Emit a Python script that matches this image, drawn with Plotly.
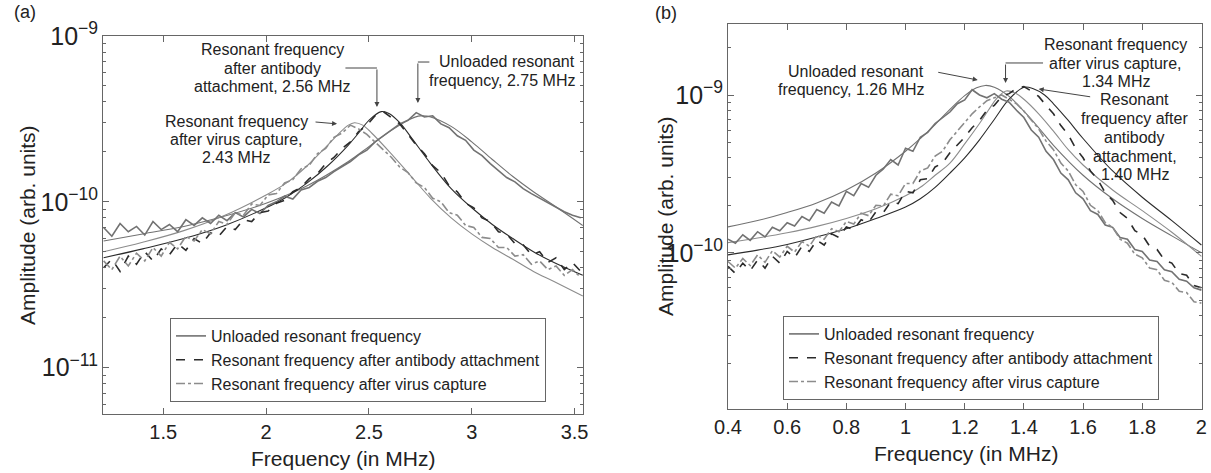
import plotly.graph_objects as go

# ---------------- Panel (a) data (amplitudes in units of 1e-10) ----------------
freq_a = [round(1.21 + 0.04 * i, 2) for i in range(59)]
amp_a_unloaded = [0.70, 0.62, 0.74, 0.66, 0.71, 0.63, 0.76, 0.68, 0.73, 0.66,
                  0.78, 0.72, 0.80, 0.74, 0.83, 0.77, 0.86, 0.81, 0.90, 0.85,
                  0.95, 1.00, 1.08, 1.04, 1.18, 1.22, 1.33, 1.40, 1.52, 1.63,
                  1.75, 1.92, 2.05, 2.30, 2.50, 2.70, 2.95, 3.10, 3.45, 3.25,
                  3.30, 2.95, 2.80, 2.50, 2.35, 2.05, 1.90, 1.70, 1.55, 1.40,
                  1.32, 1.20, 1.12, 1.05, 0.98, 0.92, 0.87, 0.83, 0.80]
amp_a_antibody = [0.40, 0.45, 0.38, 0.47, 0.42, 0.50, 0.44, 0.52, 0.48, 0.56,
                  0.51, 0.60, 0.56, 0.65, 0.62, 0.71, 0.68, 0.78, 0.76, 0.86,
                  0.88, 0.98, 1.02, 1.15, 1.22, 1.38, 1.48, 1.70, 1.85, 2.10,
                  2.30, 2.65, 2.90, 3.30, 3.50, 3.20, 2.95, 2.55, 2.20, 1.95,
                  1.65, 1.50, 1.25, 1.15, 0.98, 0.92, 0.80, 0.76, 0.66, 0.64,
                  0.56, 0.55, 0.48, 0.50, 0.43, 0.46, 0.39, 0.43, 0.38]
amp_a_virus = [0.44, 0.39, 0.47, 0.41, 0.49, 0.44, 0.53, 0.47, 0.57, 0.52,
               0.62, 0.58, 0.68, 0.64, 0.76, 0.73, 0.86, 0.83, 0.97, 0.95,
               1.10, 1.12, 1.30, 1.36, 1.58, 1.66, 1.95, 2.10, 2.45, 2.60,
               2.90, 2.75, 2.55, 2.30, 2.05, 1.85, 1.62, 1.50, 1.30, 1.22,
               1.05, 1.00, 0.86, 0.83, 0.72, 0.70, 0.61, 0.60, 0.53, 0.53,
               0.47, 0.48, 0.42, 0.44, 0.39, 0.41, 0.36, 0.39, 0.35]

fit_a_unloaded_f = [1.21, 1.4, 1.6, 1.8, 2.0, 2.2, 2.4, 2.5, 2.6, 2.7, 2.75, 2.8,
                    2.9, 3.0, 3.1, 3.2, 3.3, 3.4, 3.54]
fit_a_unloaded = [0.58, 0.64, 0.71, 0.82, 0.98, 1.25, 1.75, 2.15, 2.65, 3.15, 3.30,
                  3.25, 2.85, 2.30, 1.80, 1.42, 1.15, 0.95, 0.72]
fit_a_antibody_f = [1.21, 1.4, 1.6, 1.8, 2.0, 2.1, 2.2, 2.3, 2.4, 2.45, 2.5, 2.56,
                    2.6, 2.65, 2.7, 2.8, 2.9, 3.0, 3.1, 3.2, 3.3, 3.4, 3.54]
fit_a_antibody = [0.46, 0.52, 0.60, 0.72, 0.92, 1.07, 1.30, 1.65, 2.20, 2.60, 3.10,
                  3.50, 3.40, 3.00, 2.50, 1.70, 1.20, 0.92, 0.73, 0.60, 0.50, 0.43, 0.36]
fit_a_virus_f = [1.21, 1.4, 1.6, 1.8, 2.0, 2.1, 2.2, 2.3, 2.35, 2.4, 2.43, 2.47,
                 2.5, 2.6, 2.7, 2.8, 2.9, 3.0, 3.1, 3.2, 3.3, 3.4, 3.54]
fit_a_virus = [0.50, 0.57, 0.67, 0.83, 1.10, 1.30, 1.65, 2.20, 2.55, 2.90, 3.00,
               2.90, 2.70, 2.00, 1.45, 1.05, 0.80, 0.64, 0.53, 0.45, 0.38, 0.33, 0.27]

# ---------------- Panel (b) data (amplitudes in units of 1e-10) ----------------
freq_b = [round(0.40 + 0.025 * i, 3) for i in range(65)]
amp_b_unloaded = [1.22, 1.15, 1.30, 1.20, 1.36, 1.26, 1.45, 1.38, 1.55, 1.48,
                  1.70, 1.60, 1.88, 1.78, 2.10, 1.98, 2.45, 2.30, 2.75, 2.60,
                  3.10, 3.40, 3.90, 3.60, 4.60, 4.40, 5.40, 5.80, 6.60, 7.20,
                  7.80, 8.80, 9.30, 10.8, 10.0, 9.6, 10.2, 9.4, 9.0, 8.0,
                  7.2, 6.0, 5.4, 4.4, 3.9, 3.2, 2.9, 2.4, 2.2, 1.85,
                  1.75, 1.50, 1.45, 1.25, 1.22, 1.05, 1.02, 0.90, 0.88, 0.78,
                  0.76, 0.68, 0.66, 0.60, 0.58]
amp_b_antibody = [0.82, 0.74, 0.86, 0.77, 0.90, 0.80, 0.95, 0.86, 1.02, 0.93,
                  1.10, 1.02, 1.20, 1.12, 1.32, 1.25, 1.46, 1.40, 1.62, 1.56,
                  1.82, 1.80, 2.10, 2.05, 2.45, 2.40, 2.90, 2.95, 3.50, 3.70,
                  4.30, 4.80, 5.40, 6.20, 6.90, 8.00, 8.60, 9.80, 10.2, 11.0,
                  11.3, 10.6, 9.8, 8.6, 7.6, 6.4, 5.6, 4.6, 4.0, 3.3,
                  2.9, 2.4, 2.15, 1.80, 1.65, 1.38, 1.30, 1.10, 1.05, 0.90,
                  0.86, 0.74, 0.72, 0.62, 0.60]
amp_b_virus = [0.88, 0.80, 0.92, 0.83, 0.97, 0.87, 1.03, 0.94, 1.10, 1.01,
               1.18, 1.10, 1.29, 1.22, 1.42, 1.36, 1.58, 1.52, 1.78, 1.72,
               2.00, 1.98, 2.35, 2.30, 2.75, 2.75, 3.30, 3.45, 4.10, 4.40,
               5.20, 5.90, 6.70, 7.60, 8.40, 9.20, 9.60, 10.0, 9.4, 8.8,
               7.9, 6.9, 6.1, 5.1, 4.5, 3.7, 3.3, 2.7, 2.45, 2.0,
               1.85, 1.55, 1.45, 1.22, 1.15, 0.98, 0.93, 0.80, 0.78, 0.67,
               0.65, 0.57, 0.56, 0.49, 0.48]

fit_b_unloaded_f = [0.4, 0.5, 0.6, 0.7, 0.8, 0.9, 1.0, 1.05, 1.1, 1.15, 1.2, 1.24,
                    1.27, 1.3, 1.35, 1.4, 1.45, 1.5, 1.6, 1.7, 1.8, 1.9, 2.0]
fit_b_unloaded = [1.46, 1.60, 1.80, 2.07, 2.50, 3.20, 4.40, 5.30, 6.50, 8.10, 9.90,
                  11.1, 11.5, 11.2, 9.8, 7.9, 6.2, 4.8, 3.1, 2.2, 1.65, 1.28, 1.0]
fit_b_virus_f = [0.4, 0.5, 0.6, 0.7, 0.8, 0.9, 1.0, 1.05, 1.1, 1.15, 1.2, 1.25,
                 1.28, 1.31, 1.34, 1.37, 1.4, 1.45, 1.5, 1.55, 1.6, 1.7, 1.8, 1.9, 2.0]
fit_b_virus = [1.16, 1.24, 1.34, 1.47, 1.65, 1.90, 2.30, 2.60, 3.10, 3.70, 4.90,
               6.60, 8.00, 9.60, 10.6, 10.3, 9.4, 7.6, 5.9, 4.5, 3.6, 2.5, 1.85,
               1.35, 0.95]
fit_b_antibody_f = [0.4, 0.5, 0.6, 0.7, 0.8, 0.9, 1.0, 1.05, 1.1, 1.15, 1.2, 1.25,
                    1.3, 1.35, 1.4, 1.43, 1.47, 1.5, 1.55, 1.6, 1.7, 1.8, 1.9, 2.0]
fit_b_antibody = [0.97, 1.04, 1.13, 1.26, 1.42, 1.65, 1.95, 2.20, 2.60, 3.20, 4.00,
                  5.20, 7.00, 9.40, 11.2, 11.0, 10.0, 8.8, 6.9, 5.3, 3.3, 2.25,
                  1.6, 1.12]

series_names = ["Unloaded resonant frequency",
                "Resonant frequency after antibody attachment",
                "Resonant frequency after virus capture"]

UNIT = 1e-10
W, H = 1211, 473

C_UNL = "#727272"
C_AB = "#2b2b2b"
C_VIR = "#8c8c8c"
AX_C = "#666666"
TXT = "#222222"
FONT = "Liberation Sans, Arial, sans-serif"


def scaled(vals):
    return [v * UNIT for v in vals]


fig = go.Figure()

panels = [
    ("x", "y", "legend", freq_a,
     [amp_a_unloaded, amp_a_antibody, amp_a_virus],
     [(fit_a_unloaded_f, fit_a_unloaded), (fit_a_antibody_f, fit_a_antibody),
      (fit_a_virus_f, fit_a_virus)]),
    ("x2", "y2", "legend2", freq_b,
     [amp_b_unloaded, amp_b_antibody, amp_b_virus],
     [(fit_b_unloaded_f, fit_b_unloaded), (fit_b_antibody_f, fit_b_antibody),
      (fit_b_virus_f, fit_b_virus)]),
]
colors = [C_UNL, C_AB, C_VIR]
dashes = ["solid", "dash", "dashdot"]

for xa, ya, lg, fr, meas, fits in panels:
    for k in range(3):
        fig.add_trace(go.Scatter(
            x=fits[k][0], y=scaled(fits[k][1]), mode="lines",
            line=dict(color=colors[k], width=1.1, shape="spline"),
            xaxis=xa, yaxis=ya, showlegend=False, hoverinfo="skip"))
    for k in range(3):
        fig.add_trace(go.Scatter(
            x=fr, y=scaled(meas[k]), mode="lines", name=series_names[k],
            line=dict(color=colors[k], width=1.6, dash=dashes[k]),
            xaxis=xa, yaxis=ya, legend=lg))

axis_common = dict(showline=True, mirror="ticks", linecolor=AX_C, linewidth=1,
                   ticks="inside", ticklen=6, tickcolor=AX_C, showgrid=False,
                   zeroline=False, automargin=False, ticklabeloverflow="allow",
                   tickfont=dict(size=20, color=TXT, family=FONT))

ya_common = dict(type="log", dtick=1, exponentformat="power",
                 minor=dict(ticks="inside", ticklen=3, tickcolor=AX_C,
                            dtick="D1", showgrid=False))

fig.update_layout(
    width=W, height=H, margin=dict(l=0, r=0, t=0, b=0),
    paper_bgcolor="white", plot_bgcolor="white",
    font=dict(family=FONT, color=TXT),
    xaxis=dict(domain=[103 / W, 583 / W], range=[1.207, 3.541],
               tick0=1.5, dtick=0.5, anchor="y", **axis_common),
    yaxis=dict(domain=[1 - 414 / H, 1 - 36 / H], range=[-11.28, -9], anchor="x",
               **ya_common, **axis_common),
    xaxis2=dict(domain=[728 / W, 1202 / W], range=[0.4, 2.002],
                tick0=0.4, dtick=0.2, anchor="y2", **axis_common),
    yaxis2=dict(domain=[1 - 409 / H, 1 - 24 / H], range=[-10.99, -8.55], anchor="x2",
                **ya_common, **axis_common),
    legend=dict(x=170 / W, y=1 - 318 / H, xanchor="left", yanchor="top",
                bgcolor="white", bordercolor=AX_C, borderwidth=1,
                font=dict(size=16, family=FONT, color=TXT), tracegroupgap=0,
                itemwidth=30),
    legend2=dict(x=783 / W, y=1 - 316 / H, xanchor="left", yanchor="top",
                 bgcolor="white", bordercolor=AX_C, borderwidth=1,
                 font=dict(size=16, family=FONT, color=TXT), tracegroupgap=0,
                 itemwidth=30),
)

ann = []


def paper_text(text, px, py, size, angle=0, anchor="center"):
    ann.append(dict(text=text, x=px / W, y=1 - py / H, xref="paper", yref="paper",
                    xanchor=anchor, yanchor="middle", showarrow=False,
                    textangle=angle, font=dict(size=size, color=TXT)))


# panel labels and axis titles
paper_text("(a)", 12, 12, 18, anchor="left")
paper_text("(b)", 653, 13, 18, anchor="left")
paper_text("Frequency (in MHz)", 343, 458, 21)
paper_text("Frequency (in MHz)", 966, 453, 21)
paper_text("Amplitude (arb. units)", 27, 225, 21, angle=-90)
paper_text("Amplitude (arb. units)", 665, 216, 21, angle=-90)

ARC = "#444444"


def label(xr, yr, x, ylog, lines, anchor="center", line_h=18.5):
    n = len(lines)
    for i, t in enumerate(lines):
        ann.append(dict(text=t, x=x, y=ylog, xref=xr, yref=yr, showarrow=False,
                        xanchor=anchor, yanchor="middle",
                        yshift=((n - 1) / 2 - i) * line_h,
                        font=dict(size=16, color=TXT)))


def arrow(xr, yr, x, ylog, ax, ay, head=True):
    ann.append(dict(text="", x=x, y=ylog, xref=xr, yref=yr, showarrow=True,
                    ax=ax, ay=ay, arrowhead=2 if head else 0, arrowsize=1,
                    arrowwidth=1, arrowcolor=ARC, standoff=0, startstandoff=0))


# Panel (a) annotations
label("x", "y", 2.033, -9.196,
      ["Resonant frequency", "after antibody", "attachment, 2.56 MHz"])
arrow("x", "y", 2.539, -9.428, 0, -39)
arrow("x", "y", 2.539, -9.193, -33, 0, head=False)

label("x", "y", 3.511, -9.214,
      ["Unloaded resonant", "frequency, 2.75 MHz"], anchor="right", line_h=19)
arrow("x", "y", 2.738, -9.404, 0, -41)
arrow("x", "y", 2.738, -9.157, 13, 0, head=False)

label("x", "y", 1.854, -9.627,
      ["Resonant frequency", "after virus capture,", "2.43 MHz"], line_h=18)
arrow("x", "y", 2.345, -9.530, -23, -2)

# Panel (b) annotations
label("x2", "y2", 1.068, -8.911,
      ["Unloaded resonant", "frequency, 1.26 MHz"], anchor="right", line_h=18)
arrow("x2", "y2", 1.244, -8.905, -41, -8)

label("x2", "y2", 1.710, -8.800,
      ["Resonant frequency", "after virus capture,", "1.34 MHz"])
arrow("x2", "y2", 1.338, -8.924, 0, -20)
arrow("x2", "y2", 1.338, -8.797, 39, 0, head=False)

label("x2", "y2", 1.774, -9.269,
      ["Resonant", "frequency after", "antibody", "attachment,", "1.40 MHz"],
      line_h=18.75)
arrow("x2", "y2", 1.450, -8.962, 53, 8)

fig.update_layout(annotations=ann)
fig.write_html("out.html", config={"displayModeBar": False},
               post_script="document.body.style.margin='0';document.body.style.padding='0';")
